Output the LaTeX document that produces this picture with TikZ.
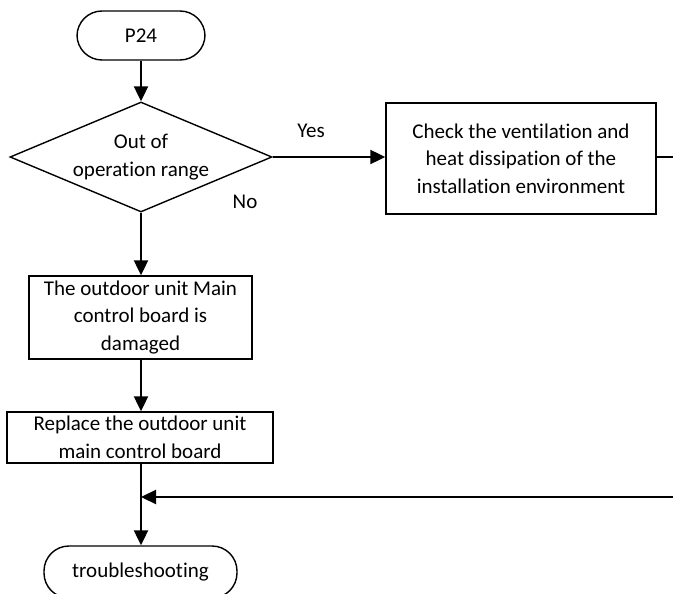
\documentclass[tikz,border=0pt]{standalone}
\usepackage{fontspec}
\setmainfont{Carlito}[Ligatures=NoCommon]
\usetikzlibrary{shapes.geometric,arrows.meta}
\begin{document}
\begin{tikzpicture}[x=1pt,y=-1pt,
  every node/.style={font=\fontsize{21}{27.5}\selectfont, align=center},
  box/.style={draw, line width=1.4pt, inner sep=0pt, minimum width=#1},
  term/.style={draw, line width=1.4pt, rounded corners=25pt, inner sep=0pt},
  arr/.style={line width=2.2pt, -{Triangle[length=15pt,width=14pt]}},
  ln/.style={line width=2.2pt}]
\useasboundingbox (0,0) rectangle (673,594);
\node[term, minimum width=128pt, minimum height=49pt] (p24) at (141,35.5) {P24};
\node[diamond, draw, line width=1.4pt, inner sep=0pt, minimum width=262pt, minimum height=110pt] (dec) at (141,157) {};
\node (dect) at (141,157) {Out of\\operation range};
\node[box=270pt, minimum height=111pt] (chk) at (521,158.5) {Check the ventilation and\\heat dissipation of the\\installation environment};
\node[box=223pt, minimum height=83pt] (dmg) at (140.5,317.5) {The outdoor unit Main\\control board is\\damaged};
\node[box=266pt, minimum height=51pt] (rep) at (140,437.5) {Replace the outdoor unit\\main control board};
\node[term, minimum width=193pt, minimum height=52pt] (ts) at (140.5,572) {troubleshooting};
\node (yes) at (311,131) {Yes};
\node (no) at (245,202) {No};
\coordinate (r1) at (673,157);
\coordinate (r2) at (673,497);
\coordinate (j) at (141,497);
\draw[arr] (p24) -- (dec.north);
\draw[arr] (dec.east) -- (chk.west |- dec.east);
\draw[ln] (chk.east |- r1) -- (r1);
\draw[arr] (dec.south) -- (dmg.north -| dec.south);
\draw[arr] (dmg.south -| dec.south) -- (rep.north -| dec.south);
\draw[arr] (rep.south -| dec.south) -- (ts.north -| dec.south);
\draw[arr] (r2) -- (j);
\end{tikzpicture}
\end{document}
